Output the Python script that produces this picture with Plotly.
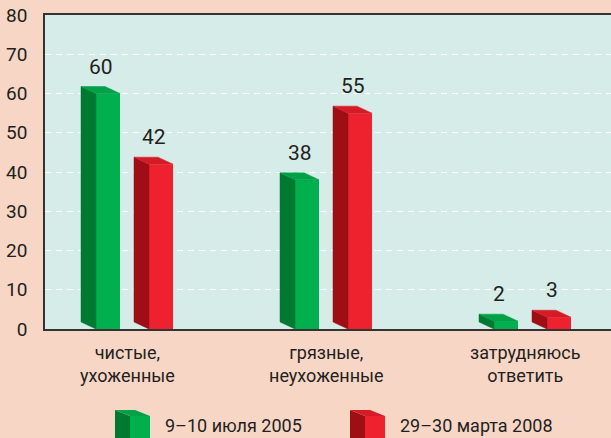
import plotly.graph_objects as go

# ---- data ----------------------------------------------------------------
categories = [("чистые,", "ухоженные"),
              ("грязные,", "неухоженные"),
              ("затрудняюсь", "ответить")]
series_names = ["9–10 июля 2005", "29–30 марта 2008"]
values_2005 = [60, 38, 2]
values_2008 = [42, 55, 3]
y_ticks = [0, 10, 20, 30, 40, 50, 60, 70, 80]

# ---- page geometry (pixels) ---------------------------------------------
W, H = 611, 438
ML, MR, MT, MB = 45, 0, 15, 109
PW, PH = W - ML - MR, H - MT - MB
PITCH = 199                      # px between category centres
LEFT_PAD = 82                    # px from plot edge to first category centre
X_RANGE = [-LEFT_PAD / PITCH, (PW - LEFT_PAD) / PITCH]
Y_RANGE = [0, 80]
UX = (X_RANGE[1] - X_RANGE[0]) / PW   # data units per px (x)
UY = (Y_RANGE[1] - Y_RANGE[0]) / PH   # data units per px (y)

FRONT_W = 24    # px, width of the front face
DEPTH_X = 15    # px, side face goes this far to the left
DEPTH_Y = 7     # px, ... and this far up

FONT = "Roboto, Liberation Sans Narrow, sans-serif"
TEXT = "#231f20"
PAPER_BG = "#f7d6c6"
PLOT_BG = "#d5ece8"

series = [
    dict(name=series_names[0], values=values_2005, off=-31,
         front="#00b04f", side="#007a31", top="#00a147"),
    dict(name=series_names[1], values=values_2008, off=22,
         front="#ee222f", side="#9e0e15", top="#d51c26"),
]

fig = go.Figure()
annotations = []
dx, dy = DEPTH_X * UX, DEPTH_Y * UY
fw = FRONT_W * UX

for s in series:
    xs = list(range(len(categories)))
    # front faces
    fig.add_trace(go.Bar(x=xs, y=s["values"], offset=s["off"] * UX, width=fw,
                         marker=dict(color=s["front"], line=dict(width=0)),
                         showlegend=False, hoverinfo="skip"))
    for i, v in zip(xs, s["values"]):
        xl = i + s["off"] * UX
        xr = xl + fw
        # left side face
        fig.add_trace(go.Scatter(
            x=[xl, xl - dx, xl - dx, xl, xl], y=[0, dy, v + dy, v, 0],
            mode="lines", fill="toself", fillcolor=s["side"],
            line=dict(color=s["side"], width=0.5),
            showlegend=False, hoverinfo="skip"))
        # top face
        fig.add_trace(go.Scatter(
            x=[xl, xl - dx, xr - dx, xr, xl], y=[v, v + dy, v + dy, v, v],
            mode="lines", fill="toself", fillcolor=s["top"],
            line=dict(color=s["top"], width=0.5),
            showlegend=False, hoverinfo="skip"))
        # value label, centred over the whole block
        annotations.append(dict(
            x=(xl - dx + xr) / 2, y=v, xref="x", yref="y",
            text=str(v), showarrow=False, yanchor="middle",
            yshift=DEPTH_Y + 20, font=dict(family=FONT, size=21, color=TEXT)))

# category labels
for i, (l1, l2) in enumerate(categories):
    annotations.append(dict(
        x=i, y=(MT + PH - 364) / PH, xref="x", yref="paper",
        text=f"{l1}<br>{l2}", showarrow=False, yanchor="middle",
        xanchor="center", align="center",
        font=dict(family=FONT, size=18, color=TEXT)))


# ---- legend: small cubes + text ----------------------------------------
def px(xp, yp):
    return (xp - ML) / PW, (MT + PH - yp) / PH


def path(pts):
    return "M " + " L ".join(f"{a:.5f},{b:.5f}" for a, b in (px(*p) for p in pts)) + " Z"


shapes = []
for s, cube_x, text_x in ((series[0], 115, 163), (series[1], 350, 398)):
    side_x, front_l, front_r = cube_x, cube_x + 15, cube_x + 35
    top_y, front_top, bottom = 410, 416, 450
    shapes.append(dict(type="path", xref="paper", yref="paper", layer="above",
                       path=path([(front_l, front_top), (front_r, front_top),
                                  (front_r, bottom), (front_l, bottom)]),
                       fillcolor=s["front"], line=dict(width=0)))
    shapes.append(dict(type="path", xref="paper", yref="paper", layer="above",
                       path=path([(side_x, top_y), (front_l, front_top),
                                  (front_l, bottom), (side_x, bottom - 6)]),
                       fillcolor=s["side"], line=dict(width=0)))
    shapes.append(dict(type="path", xref="paper", yref="paper", layer="above",
                       path=path([(side_x, top_y), (front_l, front_top),
                                  (front_r, front_top), (front_r - 15, top_y)]),
                       fillcolor=s["top"], line=dict(width=0)))
    tx, ty = px(text_x, 425)
    annotations.append(dict(x=tx, y=ty, xref="paper", yref="paper",
                            text=s["name"], showarrow=False,
                            xanchor="left", yanchor="middle",
                            font=dict(family=FONT, size=18, color=TEXT)))

fig.update_layout(
    width=W, height=H,
    margin=dict(l=ML, r=MR, t=MT, b=MB, pad=0),
    paper_bgcolor=PAPER_BG, plot_bgcolor=PLOT_BG,
    showlegend=False, barmode="overlay",
    annotations=annotations, shapes=shapes,
    xaxis=dict(range=X_RANGE, showgrid=False, zeroline=False,
               showticklabels=False, ticks="", fixedrange=True,
               showline=True, linecolor="#333333", linewidth=1.5, mirror=True),
    yaxis=dict(range=Y_RANGE, tickvals=y_ticks, ticktext=[str(t) for t in y_ticks],
               showgrid=True, gridcolor="#ffffff", gridwidth=1, griddash="6px,5px",
               zeroline=False, ticks="", ticklabelstandoff=12,
               showline=True, linecolor="#333333", linewidth=1.5,
               tickfont=dict(family=FONT, size=19, color=TEXT), fixedrange=True),
)

fig.write_html("out.html")
